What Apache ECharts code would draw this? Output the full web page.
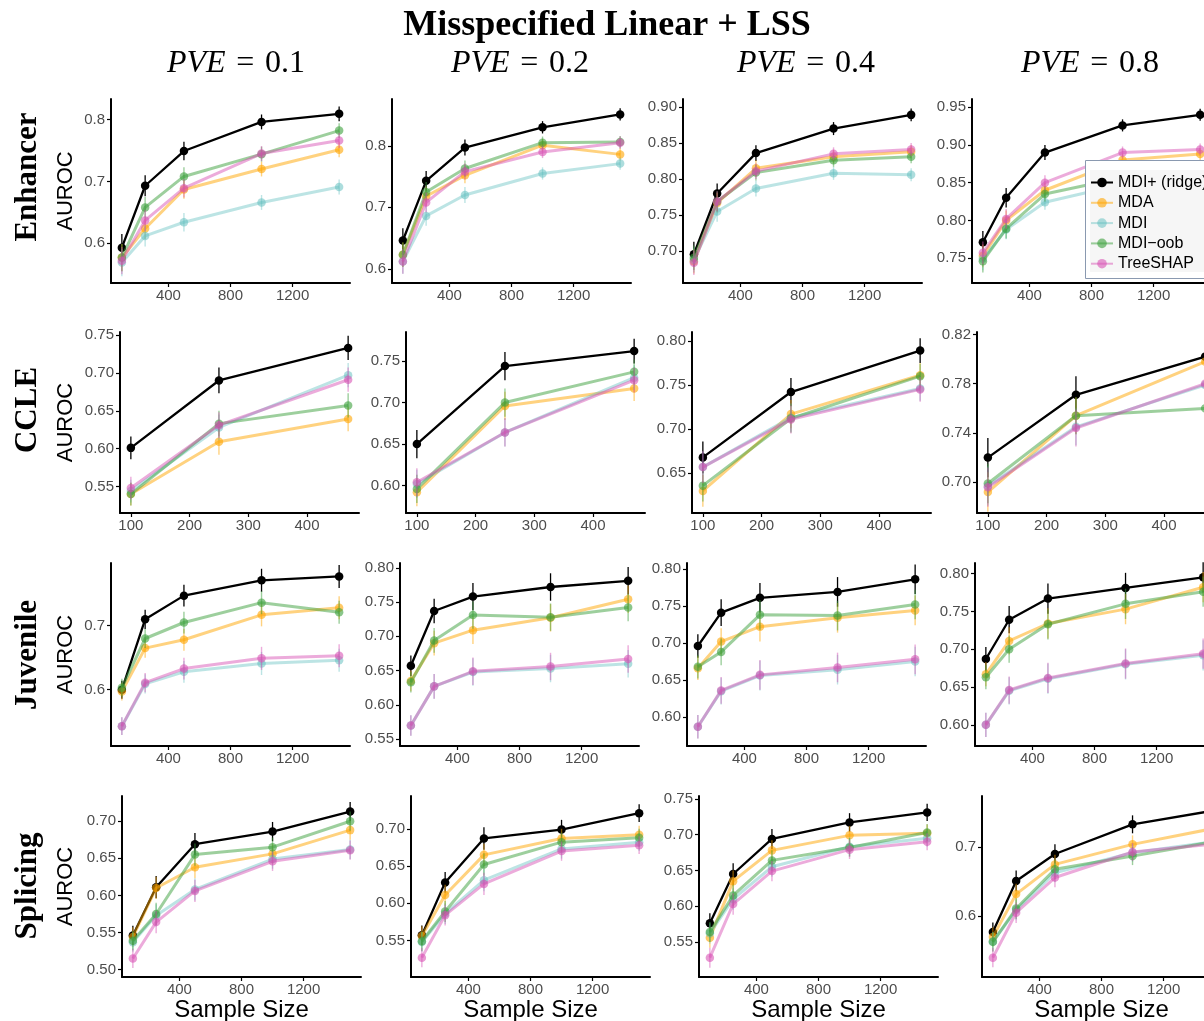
<!DOCTYPE html>
<html><head><meta charset="utf-8">
<script src="https://cdn.jsdelivr.net/npm/echarts@6/dist/echarts.min.js"></script>
<style>html,body{margin:0;padding:0;background:#fff}#c{width:1204px;height:1021px}</style>
</head><body><div id="c"></div>
<script>
// ---------------- data ----------------
const methods = ['MDI+ (ridge)', 'MDA', 'MDI', 'MDI\u2212oob', 'TreeSHAP'];
const datasets = ['Enhancer', 'CCLE', 'Juvenile', 'Splicing'];
const pveLabels = ['0.1', '0.2', '0.4', '0.8'];
const sampleSizes = [100, 250, 500, 1000, 1500];
const sampleSizesCCLE = [100, 250, 470];
const xTicks = [400, 800, 1200];
const xTicksCCLE = [100, 200, 300, 400];

// rows: MDI+, MDA, MDI, MDI-oob, TreeSHAP
const enhancer_pve01 = [[0.593,0.693,0.749,0.796,0.809],[0.577,0.624,0.687,0.720,0.751],[0.569,0.612,0.634,0.666,0.691],[0.577,0.658,0.708,0.744,0.782],[0.572,0.637,0.689,0.745,0.766]];
const enhancer_pve02 = [[0.646,0.743,0.797,0.830,0.851],[0.623,0.718,0.752,0.801,0.786],[0.612,0.686,0.720,0.755,0.771],[0.623,0.725,0.763,0.805,0.806],[0.612,0.708,0.758,0.790,0.805]];
const enhancer_pve04 = [[0.696,0.780,0.836,0.870,0.889],[0.686,0.767,0.815,0.831,0.838],[0.688,0.755,0.787,0.808,0.806],[0.691,0.769,0.809,0.826,0.831],[0.684,0.769,0.811,0.835,0.841]];
const enhancer_pve08 = [[0.771,0.830,0.890,0.926,0.940],[0.753,0.800,0.840,0.880,0.888],[0.749,0.788,0.824,0.848,0.865],[0.746,0.789,0.835,0.857,0.872],[0.757,0.802,0.850,0.890,0.894]];
const ccle_pve01 = [[0.601,0.690,0.733],[0.540,0.609,0.639],[0.544,0.628,0.697],[0.540,0.633,0.657],[0.548,0.631,0.691]];
const ccle_pve02 = [[0.650,0.744,0.762],[0.592,0.696,0.717],[0.602,0.664,0.730],[0.596,0.700,0.737],[0.604,0.664,0.727]];
const ccle_pve04 = [[0.668,0.742,0.789],[0.630,0.717,0.761],[0.657,0.713,0.746],[0.636,0.712,0.760],[0.657,0.711,0.745]];
const ccle_pve08 = [[0.720,0.771,0.802],[0.692,0.754,0.798],[0.697,0.745,0.779],[0.699,0.754,0.760],[0.696,0.744,0.780]];
const juvenile_pve01 = [[0.600,0.710,0.747,0.771,0.777],[0.597,0.665,0.678,0.717,0.728],[0.543,0.609,0.628,0.641,0.646],[0.603,0.680,0.705,0.736,0.721],[0.543,0.611,0.633,0.649,0.653]];
const juvenile_pve02 = [[0.657,0.737,0.758,0.772,0.781],[0.635,0.690,0.709,0.727,0.754],[0.570,0.627,0.648,0.653,0.660],[0.633,0.694,0.731,0.728,0.742],[0.570,0.627,0.649,0.656,0.667]];
const juvenile_pve04 = [[0.696,0.741,0.761,0.769,0.786],[0.666,0.702,0.722,0.734,0.744],[0.587,0.635,0.656,0.664,0.675],[0.668,0.688,0.738,0.737,0.752],[0.587,0.636,0.657,0.667,0.678]];
const juvenile_pve08 = [[0.687,0.739,0.767,0.781,0.795],[0.667,0.711,0.734,0.753,0.782],[0.600,0.645,0.661,0.680,0.692],[0.663,0.700,0.733,0.760,0.776],[0.600,0.646,0.662,0.681,0.694]];
const splicing_pve01 = [[0.546,0.611,0.669,0.686,0.713],[0.544,0.610,0.638,0.656,0.688],[0.537,0.573,0.608,0.649,0.662],[0.539,0.575,0.655,0.665,0.700],[0.515,0.564,0.606,0.646,0.661]];
const splicing_pve02 = [[0.557,0.628,0.687,0.699,0.721],[0.556,0.611,0.665,0.687,0.692],[0.548,0.586,0.631,0.673,0.682],[0.549,0.589,0.652,0.682,0.688],[0.527,0.584,0.626,0.670,0.678]];
const splicing_pve04 = [[0.576,0.645,0.694,0.717,0.731],[0.556,0.635,0.678,0.699,0.702],[0.562,0.610,0.655,0.683,0.695],[0.564,0.615,0.664,0.682,0.703],[0.528,0.603,0.649,0.679,0.690]];
const splicing_pve08 = [[0.577,0.651,0.690,0.733,0.752],[0.570,0.632,0.675,0.704,0.726],[0.563,0.609,0.663,0.692,0.707],[0.563,0.611,0.668,0.687,0.707],[0.540,0.605,0.656,0.693,0.704]];

// error bar half widths (per sample size)
const enhancer_err = [[0.022,0.017,0.015,0.012,0.012],[0.020,0.016,0.013,0.010,0.010],[0.017,0.014,0.011,0.009,0.009],[0.015,0.013,0.010,0.008,0.008]];
const ccle_err = [[0.015,0.017,0.016],[0.017,0.017,0.015],[0.018,0.016,0.014],[0.016,0.015,0.012]];
const juvenile_err = [[0.014,0.015,0.017,0.018,0.018],[0.015,0.018,0.020,0.020,0.020],[0.016,0.018,0.020,0.020,0.020],[0.016,0.018,0.020,0.020,0.020]];
const splicing_err = [[0.013,0.015,0.015,0.013,0.013],[0.013,0.014,0.015,0.013,0.012],[0.014,0.015,0.014,0.013,0.012],[0.014,0.015,0.014,0.013,0.012]];

// y tick labels
const enhancer_yticks = [['0.6','0.7','0.8'],['0.6','0.7','0.8'],['0.70','0.75','0.80','0.85','0.90'],['0.75','0.80','0.85','0.90','0.95']];
const ccle_yticks = [['0.55','0.60','0.65','0.70','0.75'],['0.60','0.65','0.70','0.75'],['0.65','0.70','0.75','0.80'],['0.70','0.74','0.78','0.82']];
const juvenile_yticks = [['0.6','0.7'],['0.55','0.60','0.65','0.70','0.75','0.80'],['0.60','0.65','0.70','0.75','0.80'],['0.60','0.65','0.70','0.75','0.80']];
const splicing_yticks = [['0.50','0.55','0.60','0.65','0.70'],['0.55','0.60','0.65','0.70'],['0.55','0.60','0.65','0.70','0.75'],['0.6','0.7']];

// y axis extents
const enhancer_yrange = [[0.536,0.833],[0.577,0.876],[0.656,0.911],[0.717,0.961]];
const ccle_yrange = [[0.515,0.754],[0.567,0.785],[0.605,0.810],[0.675,0.822]];
const juvenile_yrange = [[0.512,0.798],[0.540,0.807],[0.561,0.808],[0.572,0.814]];
const splicing_yrange = [[0.490,0.734],[0.501,0.744],[0.501,0.754],[0.512,0.774]];

// ---------------- layout / style ----------------
const SANS = '"Liberation Sans", Arial, Helvetica, sans-serif';
const SERIF = '"Liberation Serif", "Times New Roman", serif';
const rowTop = [99, 332, 563, 796];
const rowBottom = [283, 513, 746, 977];
const panelLeft = [[111,392,683,972],[120,406,692,977],[111,400,687,975],[122,411,699,982]];
const panelWidth = 239;
const lineColors = ['#000000','rgba(255,165,0,0.5)','rgba(95,190,190,0.42)','rgba(60,160,60,0.5)','rgba(215,80,180,0.48)'];
const pointColors = ['#000000','rgba(255,165,0,0.6)','rgba(95,190,190,0.52)','rgba(60,160,60,0.6)','rgba(215,80,180,0.58)'];

const panelValues = [
  [enhancer_pve01, enhancer_pve02, enhancer_pve04, enhancer_pve08],
  [ccle_pve01, ccle_pve02, ccle_pve04, ccle_pve08],
  [juvenile_pve01, juvenile_pve02, juvenile_pve04, juvenile_pve08],
  [splicing_pve01, splicing_pve02, splicing_pve04, splicing_pve08]
];
const panelErr = [enhancer_err, ccle_err, juvenile_err, splicing_err];
const panelYTicks = [enhancer_yticks, ccle_yticks, juvenile_yticks, splicing_yticks];
const panelYRange = [enhancer_yrange, ccle_yrange, juvenile_yrange, splicing_yrange];

function xDomain(sizes) {
  const lo = sizes[0], hi = sizes[sizes.length - 1], pad = (hi - lo) * 0.05;
  return [lo - pad, hi + pad];
}

const grids = [], xAxes = [], yAxes = [], series = [];
for (let r = 0; r < 4; r++) {
  for (let c = 0; c < 4; c++) {
    const k = r * 4 + c;
    const sizes = r === 1 ? sampleSizesCCLE : sampleSizes;
    const xt = r === 1 ? xTicksCCLE : xTicks;
    const dom = xDomain(sizes);
    const ticks = panelYTicks[r][c];
    const tickVals = ticks.map(Number);
    const yr = panelYRange[r][c];
    grids.push({
      left: panelLeft[r][c], top: rowTop[r], width: panelWidth,
      height: rowBottom[r] - rowTop[r], containLabel: false, outerBoundsMode: 'none', show: false
    });
    xAxes.push({
      gridIndex: k, type: 'value', min: dom[0], max: dom[1],
      axisLine: { show: true, onZero: false, lineStyle: { color: '#000', width: 2 } },
      axisTick: { show: true, length: 4, customValues: xt, lineStyle: { color: '#000', width: 1.2 } },
      axisLabel: { customValues: xt, color: '#4d4d4d', fontSize: 15, fontFamily: SANS, margin: 5,
        formatter: v => String(Math.round(v)) },
      splitLine: { show: false },
      name: r === 3 ? 'Sample Size' : '', nameLocation: 'middle', nameGap: 18,
      nameTextStyle: { fontSize: 24, color: '#000', fontFamily: SANS, verticalAlign: 'top' }
    });
    yAxes.push({
      gridIndex: k, type: 'value', min: yr[0], max: yr[1],
      axisLine: { show: true, onZero: false, lineStyle: { color: '#000', width: 2 } },
      axisTick: { show: true, length: 4, customValues: tickVals, lineStyle: { color: '#000', width: 1.2 } },
      axisLabel: {
        customValues: tickVals, color: '#4d4d4d', fontSize: 15, fontFamily: SANS, margin: 6,
        formatter: v => { for (let i = 0; i < tickVals.length; i++) if (Math.abs(v - tickVals[i]) < 1e-9) return ticks[i]; return ''; }
      },
      splitLine: { show: false }
    });
    const vals = panelValues[r][c];
    const err = panelErr[r][c];
    for (let m = 0; m < 5; m++) {
      const isBlack = m === 0;
      series.push({
        type: 'custom', name: methods[m] + ' err', xAxisIndex: k, yAxisIndex: k,
        z: 2 + m * 0.1, silent: true,
        encode: { x: 0, y: 1 },
        data: sizes.map((s, i) => [s, vals[m][i], err[i]]),
        renderItem: (params, api) => {
          const x = api.value(0), y = api.value(1), e = api.value(2);
          const p1 = api.coord([x, y - e]), p2 = api.coord([x, y + e]);
          return { type: 'line', shape: { x1: p1[0], y1: p1[1], x2: p2[0], y2: p2[1] },
            style: { stroke: lineColors[m], lineWidth: isBlack ? 1.3 : 1.4 } };
        }
      });
      series.push({
        type: 'line', name: methods[m], xAxisIndex: k, yAxisIndex: k,
        z: 2 + m * 0.1 + 0.05,
        data: sizes.map((s, i) => [s, vals[m][i]]),
        symbol: 'circle', symbolSize: 8.5, showSymbol: true,
        lineStyle: { color: lineColors[m], width: isBlack ? 2.3 : 3 },
        itemStyle: { color: pointColors[m], borderWidth: 0 },
        emphasis: { disabled: true }, clip: false
      });
    }
  }
}

const graphics = [];
graphics.push({ type: 'text', x: 607, y: 26, z: 10,
  style: { text: 'Misspecified Linear + LSS', fontFamily: SERIF, fontWeight: 'bold', fontSize: 36, fill: '#000', align: 'center', verticalAlign: 'middle' } });
const pveX = [236, 520, 806, 1090];
for (let c = 0; c < 4; c++) {
  graphics.push({ type: 'text', x: pveX[c], y: 64, z: 10,
    style: { text: '{i|PVE}{n|\u2004=\u2004' + pveLabels[c] + '}', align: 'center', verticalAlign: 'middle',
      rich: { i: { fontFamily: SERIF, fontStyle: 'italic', fontSize: 32, fill: '#000' },
              n: { fontFamily: SERIF, fontSize: 32, fill: '#000' } } } });
}
const rowLabelY = [177, 410, 655, 886];
for (let r = 0; r < 4; r++) {
  graphics.push({ type: 'text', x: 28, y: rowLabelY[r], rotation: Math.PI / 2, z: 10,
    style: { text: datasets[r], fontFamily: SERIF, fontWeight: 'bold', fontSize: 31, fill: '#000', align: 'center', verticalAlign: 'middle' } });
  graphics.push({ type: 'text', x: 66, y: (rowTop[r] + rowBottom[r]) / 2, rotation: Math.PI / 2, z: 10,
    style: { text: 'AUROC', fontFamily: SANS, fontSize: 22, fill: '#000', align: 'center', verticalAlign: 'middle' } });
}
// legend frame
graphics.push({ type: 'rect', z: 20, shape: { x: 1085.5, y: 160.5, width: 140, height: 118 },
  style: { fill: '#ffffff', stroke: '#8a99b0', lineWidth: 1 } });
graphics.push({ type: 'rect', z: 21, shape: { x: 1090, y: 170, width: 140, height: 102 },
  style: { fill: '#f6f6f6' } });

const option = {
  animation: false,
  backgroundColor: '#ffffff',
  grid: grids, xAxis: xAxes, yAxis: yAxes, series: series,
  graphic: { elements: graphics },
  legend: {
    orient: 'vertical', left: 1090, top: 174, z: 30,
    data: methods, selectedMode: false,
    itemWidth: 22, itemHeight: 12, itemGap: 3.3,
    padding: 0,
    textStyle: { fontSize: 16, color: '#000', fontFamily: SANS, lineHeight: 17 }
  }
};
const chart = echarts.init(document.getElementById('c'), null, { renderer: 'canvas' });
chart.setOption(option);
</script></body></html>
